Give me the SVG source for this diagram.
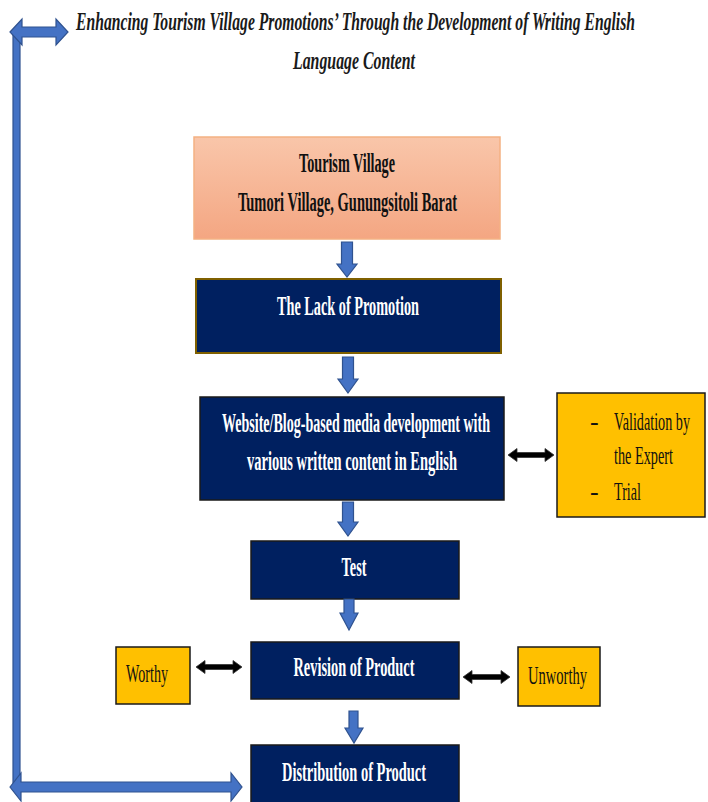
<svg xmlns="http://www.w3.org/2000/svg" width="708" height="802" viewBox="0 0 708 802">
<style>
  .t { font-family: "Liberation Serif", "Times New Roman", serif; font-weight: bold; }
  .title { font-size: 26px; font-style: italic; fill: #1a1a1a; }
  .w { font-size: 27px; fill: #ffffff; }
  .k { font-size: 27px; fill: #111111; }
  .ks { font-size: 26px; fill: #111111; font-weight: normal; }
  .navy { fill: #002060; stroke: #1a1a1a; stroke-width: 1.5; }
  .yel { fill: #FFC000; stroke: #1a1a1a; stroke-width: 1.5; }
  .blue { fill: #4472C4; stroke: #2F528F; stroke-width: 1.2; }
  .blk { fill: #000000; stroke: #333333; stroke-width: 0.8; }
</style>
<defs>
  <linearGradient id="salmon" x1="0" y1="0" x2="0" y2="1">
    <stop offset="0" stop-color="#F9C6AA"/>
    <stop offset="1" stop-color="#F4A682"/>
  </linearGradient>
</defs>

<g id="title">
  <text class="t title" x="76" y="30" textLength="559" lengthAdjust="spacingAndGlyphs">Enhancing Tourism Village Promotions’ Through the Development of Writing English</text>
  <text class="t title" x="293" y="69" textLength="122" lengthAdjust="spacingAndGlyphs">Language Content</text>
</g>

<g id="node-tourism">
  <rect x="194" y="137" width="306" height="102" fill="url(#salmon)" stroke="#F4B183" stroke-width="1.5"/>
  <text class="t k" x="347" y="172" text-anchor="middle" textLength="96" lengthAdjust="spacingAndGlyphs">Tourism Village</text>
  <text class="t k" x="347.5" y="211" text-anchor="middle" textLength="219" lengthAdjust="spacingAndGlyphs">Tumori Village, Gunungsitoli Barat</text>
</g>

<g id="node-lack">
  <rect x="196" y="279" width="305" height="74" fill="#002060" stroke="#7F6000" stroke-width="2"/>
  <text class="t w" x="348" y="315" text-anchor="middle" textLength="142" lengthAdjust="spacingAndGlyphs">The Lack of Promotion</text>
</g>

<g id="node-website">
  <rect class="navy" x="200" y="397" width="304" height="103"/>
  <text class="t w" x="356" y="432" text-anchor="middle" textLength="268" lengthAdjust="spacingAndGlyphs">Website/Blog-based media development with</text>
  <text class="t w" x="352" y="470" text-anchor="middle" textLength="210" lengthAdjust="spacingAndGlyphs">various written content in English</text>
</g>

<g id="node-validation">
  <rect class="yel" x="557" y="393" width="148" height="124"/>
  <text class="t ks" x="590" y="430">-</text>
  <text class="t ks" x="614" y="430" textLength="76" lengthAdjust="spacingAndGlyphs">Validation by</text>
  <text class="t ks" x="614" y="464" textLength="59" lengthAdjust="spacingAndGlyphs">the Expert</text>
  <text class="t ks" x="590" y="500">-</text>
  <text class="t ks" x="614" y="500" textLength="27" lengthAdjust="spacingAndGlyphs">Trial</text>
</g>

<g id="node-test">
  <rect class="navy" x="251" y="541" width="208" height="58"/>
  <text class="t w" x="354" y="576" text-anchor="middle" textLength="25" lengthAdjust="spacingAndGlyphs">Test</text>
</g>

<g id="node-revision">
  <rect class="navy" x="251" y="642" width="208" height="57"/>
  <text class="t w" x="354" y="676" text-anchor="middle" textLength="121" lengthAdjust="spacingAndGlyphs">Revision of Product</text>
</g>

<g id="node-worthy">
  <rect class="yel" x="116" y="647" width="74" height="57"/>
  <text class="t ks" x="147" y="682" text-anchor="middle" textLength="42" lengthAdjust="spacingAndGlyphs">Worthy</text>
</g>

<g id="node-unworthy">
  <rect class="yel" x="518" y="647" width="82" height="59"/>
  <text class="t ks" x="557.5" y="684" text-anchor="middle" textLength="59" lengthAdjust="spacingAndGlyphs">Unworthy</text>
</g>

<g id="node-distribution">
  <rect class="navy" x="251" y="745" width="208" height="60"/>
  <text class="t w" x="354" y="781" text-anchor="middle" textLength="144" lengthAdjust="spacingAndGlyphs">Distribution of Product</text>
</g>

<g id="connectors">
  <!-- down arrows -->
  <path class="blue" d="M341.5,242 H352.5 V264 H357 L347,277 L337,264 H341.5 Z"/>
  <path class="blue" d="M342.5,357 H353.5 V379 H358 L348,393 L338,379 H342.5 Z"/>
  <path class="blue" d="M342.5,502 H353.5 V522 H358 L348,536 L338,522 H342.5 Z"/>
  <path class="blue" d="M344,599 H354 V613 H358 L349,630 L340,613 H344 Z"/>
  <path class="blue" d="M349,711 H358 V728 H363 L354,743 L345,728 H349 Z"/>
  <!-- black double arrows -->
  <path class="blk" d="M508,455 L517,448.5 V452.5 H545 V448.5 L554,455 L545,461.5 V457.5 H517 V461.5 Z"/>
  <path class="blk" d="M196,667 L205,660.5 V664.5 H233 V660.5 L242,667 L233,673.5 V669.5 H205 V673.5 Z"/>
  <path class="blk" d="M463,677 L472,670.5 V674.5 H501 V670.5 L510,677 L501,683.5 V679.5 H472 V683.5 Z"/>
  <!-- blue bracket -->
  <path class="blue" d="M13,34 H20 V783 H13 Z"/>
  <path class="blue" d="M10,32 L22,19 V27 H56 V19 L68,32 L56,45 V37 H22 V45 Z"/>
  <path class="blue" d="M10,787 L21,773 V782 H231 V773 L242,787 L231,801 V792 H21 V801 Z"/>
</g>
</svg>
